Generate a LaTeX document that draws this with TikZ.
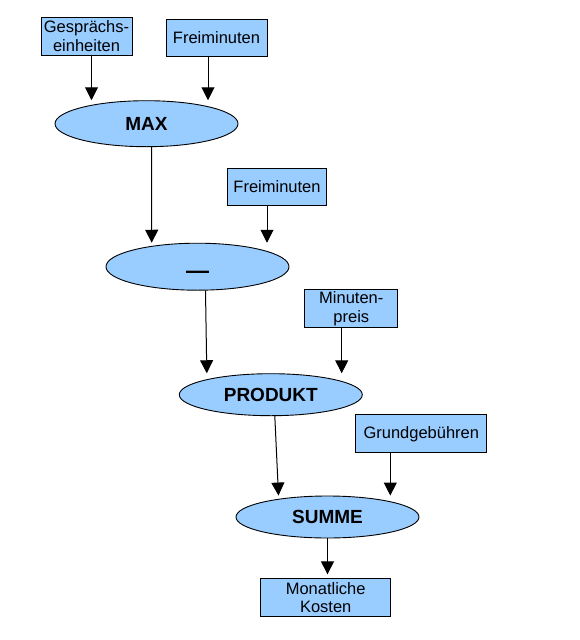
\documentclass[tikz,border=0pt]{standalone}
\usepackage{fontspec}
\setmainfont{Liberation Sans}
\usepackage{tikz}
\usetikzlibrary{arrows.meta,calc,shapes.geometric}
\definecolor{PaleBlue}{HTML}{99CCFF}
\definecolor{Ink}{HTML}{000000}
\tikzset{
  box/.style={draw=Ink,fill=PaleBlue,line width=.9pt,inner sep=0pt,align=center,font=\fontsize{16.5}{18.5}\selectfont},
  op/.style={draw=Ink,fill=PaleBlue,ellipse,line width=.9pt,inner sep=0pt,minimum width=183pt,font=\fontsize{19}{22}\selectfont\bfseries},
  arr/.style={-{Triangle[length=13pt,width=13pt]},draw=Ink,line width=1pt},
}
\begin{document}
\begin{tikzpicture}[x=1pt,y=-1pt]
    \useasboundingbox[fill=white] (0,0) rectangle (579,640);
    % inputs and operators, top to bottom
    \node[box,minimum width=91pt,minimum height=38pt] (einh) at (86.5,36) {Gesprächs-\\einheiten};
    \node[box,minimum width=101pt,minimum height=37pt] (frei1) at (216.5,38) {Freiminuten};
    \node[op,minimum height=46pt] (max) at (146.5,123.7) {MAX};
    \node[box,minimum width=99pt,minimum height=37pt] (frei2) at (277,186.7) {Freiminuten};
    \node[op,minimum height=47pt] (minus) at (197.5,266.7) {\smash{\raisebox{-12pt}{\fontsize{23}{23}\selectfont —}}};
    \node[box,minimum width=93pt,minimum height=38pt] (preis) at (351.3,308.8) {Minuten-\\preis};
    \node[op,minimum height=42pt] (prod) at (270.8,394.7) {PRODUKT};
    \node[box,minimum width=131pt,minimum height=38pt] (grund) at (421.3,433.8) {Grundgebühren};
    \node[op,minimum height=42pt] (summe) at (327.5,517) {SUMME};
    \node[box,minimum width=130pt,minimum height=38pt] (kosten) at (325.7,597.8) {Monatliche\\Kosten};
    % connectors
    \draw[arr] ($(einh.south)+(5,0)$) -- ($(einh.south |- max.north)+(5,0)$);
    \draw[arr] ($(frei1.south)+(-8.5,0)$) -- ($(frei1.south |- max.north)+(-8.5,0)$);
    \draw[arr] ($(max.south)+(5,0)$) -- ($(minus.north)+(-45.8,0)$);
    \draw[arr] ($(frei2.south)+(-10,0)$) -- ($(frei2.south |- minus.north)+(-10,0)$);
    \draw[arr] ($(minus.south)+(8,0)$) -- ($(prod.north)+(-64,0)$);
    \draw[arr] ($(preis.south)+(-9.6,0)$) -- ($(preis.south |- prod.north)+(-9.6,0)$);
    \draw[arr] ($(prod.south)+(4,0)$) -- ($(summe.north)+(-49,0)$);
    \draw[arr] ($(grund.south)+(-31,0)$) -- ($(grund.south |- summe.north)+(-31,0)$);
    \draw[arr] (summe.south) -- ($(summe.south |- kosten.north)+(0,-4)$);
\end{tikzpicture}
\end{document}
